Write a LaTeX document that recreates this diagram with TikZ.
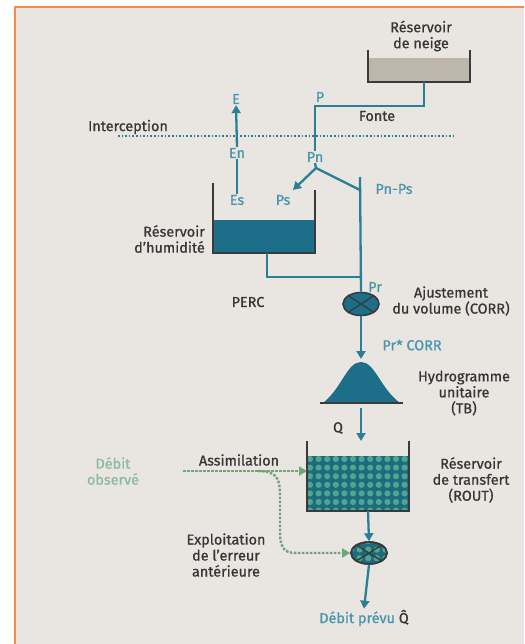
\documentclass[tikz,border=0pt]{standalone}
\usepackage{fontspec}
\setmainfont{Fira Sans}[FakeBold=0.8]
\usetikzlibrary{arrows.meta,shapes.geometric}
\definecolor{bg}{HTML}{E9E6E1}
\definecolor{frame}{HTML}{F28C4E}
\definecolor{tline}{HTML}{2A7E98}
\definecolor{tfill}{HTML}{1D6F89}
\definecolor{ttext}{HTML}{4A95AB}
\definecolor{dtext}{HTML}{363636}
\definecolor{wall}{HTML}{3A3A3A}
\definecolor{snow}{HTML}{BDB6AA}
\definecolor{gline}{HTML}{6FA47C}
\definecolor{gtext}{HTML}{8DBB9C}
\definecolor{pbase}{HTML}{1C6B7E}
\definecolor{pdiam}{HTML}{4FA58E}
\tikzset{
  lab/.style={font=\fontsize{14.4}{17}\selectfont, text=dtext, inner sep=1pt, align=center},
  tlab/.style={font=\fontsize{14.4}{17}\selectfont, text=ttext, inner sep=1pt},
  glab/.style={font=\fontsize{14.4}{17}\selectfont, text=gtext, inner sep=1pt, align=center},
  flow/.style={draw=tline, line width=2.3pt},
  flowarr/.style={flow, -{Triangle[length=8pt,width=9pt]}},
  wallline/.style={draw=wall, line width=2pt},
  gdash/.style={draw=gline, line width=2.4pt, dash pattern=on 2.5pt off 1.5pt},
  gdasharr/.style={gdash, -{Triangle[length=8pt,width=9pt,fill=gline]}},
  mult/.style={ellipse, draw=wall, line width=1.6pt, fill=tfill, minimum width=36pt, minimum height=23pt, inner sep=0pt}
}
\begin{document}
\begin{tikzpicture}[x=1pt,y=-1pt]
\useasboundingbox (0,0) rectangle (524,644);
\fill[white] (0,0) rectangle (524,644);
\fill[bg] (15,7) rectangle (524,644);
\draw[frame, line width=1.5pt] (15,644) -- (15,7) -- (524,7);

% snow reservoir
\fill[snow] (368,58) rectangle (470,82);
\draw[wallline] (368,50) -- (368,82) -- (470,82) -- (470,50);
\node[lab] (neige) at (421,36) {Réservoir\\[-1pt]de neige};
\coordinate (snowout) at (424,82);
\coordinate (c1) at (424,106);
\coordinate (c2) at (315,106);

% interception line
\coordinate (il) at (118,136);
\coordinate (ir) at (455,136);
\draw[draw=tline, line width=2.2pt, dash pattern=on 1.6pt off 2pt] (il) -- (ir);
\node[lab] (interc) at (128,127) {Interception};

\node[tlab] (P) at (320,97) {P};
\node[lab] (fonte) at (377,116) {Fonte};
\node[tlab] (Pn) at (315,157) {Pn};
\draw[flow] (snowout) -- (c1) -- (c2) -- (Pn.north);

% evaporation
\node[tlab] (E) at (236,99) {E};
\node[tlab] (En) at (237,153) {En};
\node[tlab] (Es) at (237,200) {Es};
\draw[flowarr] (En.north) -- (E.south);
\draw[flow] (Es.north) -- (En.south);

% humidity reservoir
\fill[tfill] (213,220) rectangle (315,253);
\draw[wallline] (213,183) -- (213,253) -- (315,253) -- (315,190);
\node[lab, align=right, anchor=east] (hum) at (206,239) {Réservoir\\[-1pt]d'humidité};

% Pn split
\coordinate (split) at (316,168);
\coordinate (psr) at (360,190);
\node[tlab] (Ps) at (283,200) {Ps};
\node[tlab] (PnPs) at (394,189) {Pn-Ps};
\draw[flowarr] (split) -- (293,190);
\draw[flow] (Pn.south) -- (split) -- (psr);

% PERC
\coordinate (percb) at (267,253);
\coordinate (perc1) at (267,277);
\coordinate (join) at (360,277);
\draw[flow] (percb) -- (perc1) -- (join);
\node[lab] (PERC) at (248,302) {PERC};
\node[tlab] (Pr) at (375,287) {Pr};

% correction multiplier
\node[mult] (m1) at (361,304) {};
\draw[wall, line width=1.4pt] (m1.north east) -- (m1.south west) (m1.north west) -- (m1.south east);
\draw[flow] (360,177) -- (m1.north);
\node[lab] (ajust) at (451,301) {Ajustement\\[-1pt]du volume (CORR)};

% unit hydrograph
\coordinate (bellt) at (361,359);
\draw[flowarr] (m1.south) -- (bellt);
\node[tlab] (prc) at (412,345) {Pr* CORR};
\fill[tfill] (323,403) .. controls (342,388) and (347,362) .. (361,362) .. controls (375,362) and (380,388) .. (400,403) -- cycle;
\draw[wall, line width=2pt] (320,403) -- (403,403);
\node[lab] (hydro) at (464,393) {Hydrogramme\\[-1pt]unitaire\\[-1pt](TB)};
\coordinate (bellb) at (361,408);
\coordinate (routin) at (361,441);
\draw[flowarr] (bellb) -- (routin);
\node[lab] (Q) at (338,428) {Q};

% transfer reservoir
\fill[pbase] (307,456) rectangle (409,511);
\begin{scope}
\clip (307,456) rectangle (409,511);
\foreach \i in {0,...,12} {
  \foreach \j in {0,...,7} {
    \fill[pdiam] ({310+\i*8.6},{459+\j*8.6}) circle (3.1pt);
  }
}
\end{scope}
\draw[wallline] (307,441) -- (307,511) -- (409,511) -- (409,441);
\node[lab] (rout) at (471,480) {Réservoir\\[-1pt]de transfert\\[-1pt](ROUT)};

% output multiplier
\node[mult, fill=pbase, minimum height=22pt] (m2) at (369,553) {};
\begin{scope}
\clip (m2.center) ellipse (17pt and 10pt);
\foreach \i in {0,...,5} {
  \foreach \j in {0,...,3} {
    \fill[pdiam] ({351+\i*8.6},{541+\j*8.6}) circle (3.1pt);
  }
}
\end{scope}
\draw[wall, line width=1.6pt] (m2.center) ellipse (18pt and 11pt);
\draw[wall, line width=1.4pt] (m2.north east) -- (m2.south west) (m2.north west) -- (m2.south east);
\coordinate (routout) at (368,511);
\draw[flowarr] (routout) -- (m2.north);
\node[tlab] (prevu) at (364,618) {Débit prévu \textcolor{dtext}{\^{Q}}};
\draw[flowarr] (m2.south) -- (prevu.north);

% observed discharge
\node[glab] (obs) at (113,471) {Débit\\[-1pt]observé};
\node[lab] (assim) at (239,460) {Assimilation};
\node[lab] (expl) at (226,555) {Exploitation\\[-1pt]de l'erreur\\[-1pt]antérieure};
\coordinate (obsst) at (183,471);
\coordinate (routwall) at (307,471);
\coordinate (br) at (258,471);
\draw[gdasharr] (obsst) -- (routwall);
\draw[gdasharr] (br) .. controls (280,471) and (280,482) .. (280,500) -- (280,532) .. controls (280,553) and (288,553) .. (300,553) -- (m2.west);
\end{tikzpicture}
\end{document}
